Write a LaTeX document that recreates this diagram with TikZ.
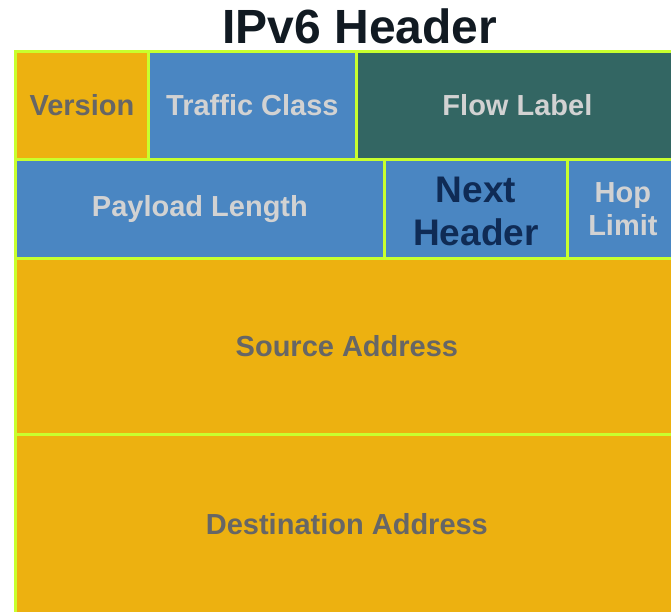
\documentclass[tikz,border=0pt]{standalone}
\usepackage{fontspec}
\setmainfont{Liberation Sans}
\definecolor{gold}{HTML}{EDB110}
\definecolor{fieldblue}{HTML}{4A86C2}
\definecolor{teal}{HTML}{336663}
\definecolor{lime}{HTML}{C8FF2E}
\definecolor{darkgray}{HTML}{666666}
\definecolor{lightgray}{HTML}{D2D2D2}
\definecolor{navy}{HTML}{0F2B55}
\definecolor{titleink}{HTML}{111A22}
\tikzset{
  field/.style={draw=lime, line width=2.8pt, anchor=north west, inner sep=0pt,
    align=center, font=\fontsize{29}{33}\selectfont\bfseries},
  goldfield/.style={field, fill=gold, text=darkgray},
  bluefield/.style={field, fill=fieldblue, text=lightgray},
  tealfield/.style={field, fill=teal, text=lightgray},
}
\begin{document}
\begin{tikzpicture}[x=1pt, y=-1pt]
  \useasboundingbox (0,0) rectangle (671,611);
  \clip (0,0) rectangle (671,611);
  \node[font=\fontsize{48}{52}\selectfont\bfseries, text=titleink] (title) at (360,26) {IPv6 Header};
  % row 1
  \node[goldfield, minimum width=133pt, minimum height=108pt] (version) at (14,50) {Version};
  \node[bluefield, minimum width=208pt, minimum height=108pt] (tclass) at (147,50) {Traffic Class};
  \node[tealfield, minimum width=322pt, minimum height=108pt] (flow) at (355,50) {Flow Label};
  % row 2
  \node[bluefield, minimum width=369pt, minimum height=99pt] (payload) at (14,158) {Payload Length};
  \node[bluefield, minimum width=183pt, minimum height=99pt] (next) at (383,158) {};
  \node[text=navy, font=\fontsize{37}{43}\selectfont\bfseries, align=center, inner sep=0pt]
       (nextlabel) at ([yshift=-3pt]next.center) {Next\\Header};
  \node[bluefield, minimum width=111pt, minimum height=99pt] (hop) at (566,158) {Hop\\Limit};
  % addresses
  \node[goldfield, minimum width=663pt, minimum height=176pt] (src) at (14,257) {Source Address};
  \node[goldfield, minimum width=663pt, minimum height=180pt] (dst) at (14,433) {Destination Address};
\end{tikzpicture}
\end{document}
